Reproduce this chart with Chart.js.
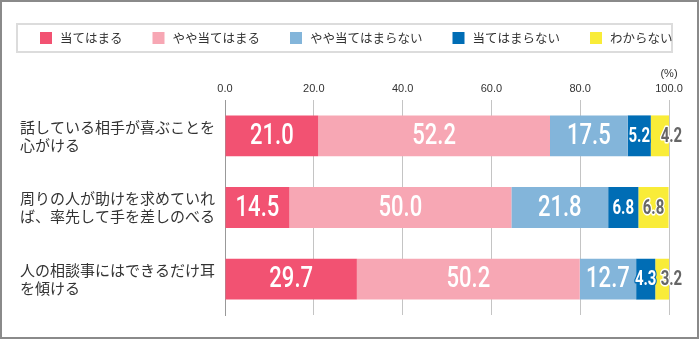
<!DOCTYPE html>
<html>
<head>
<meta charset="utf-8">
<script src="https://cdn.jsdelivr.net/npm/chart.js@4/dist/chart.umd.min.js"></script>
<style>
html, body { margin: 0; padding: 0; background: #fff; }
#grafico { width: 700px; height: 340px; }
</style>
</head>
<body>
<div id="grafico"><canvas id="myChart" width="700" height="340"></canvas></div>
<script>
const categorias = [
    ["話している相手が喜ぶことを", "心がける"],
    ["周りの人が助けを求めていれ", "ば、率先して手を差しのべる"],
    ["人の相談事にはできるだけ耳", "を傾ける"]
]
const series = ["当てはまる", "やや当てはまる", "やや当てはまらない", "当てはまらない", "わからない"]
const atehamaru = [21.0, 14.5, 29.7]
const yayaAtehamaru = [52.2, 50.0, 50.2]
const yayaAtehamaranai = [17.5, 21.8, 12.7]
const atehamaranai = [5.2, 6.8, 4.3]
const wakaranai = [4.2, 6.8, 3.2]
const tickLabels = ["0.0", "20.0", "40.0", "60.0", "80.0", "100.0"]
const colores = ["#F25272", "#F7A7B4", "#83B5DA", "#006DB5", "#F9EC38"]

const numFont = 'Roboto, sans-serif'
const jpFont = '"Noto Sans CJK JP", sans-serif'

// marco exterior, leyenda con borde y "(%)"
const marco = {
    id: "marco",
    afterDraw(chart) {
        const ctx = chart.ctx
        ctx.save()
        ctx.strokeStyle = "#8a8a8a"
        ctx.lineWidth = 2
        ctx.strokeRect(1, 1, 697, 337)

        ctx.strokeStyle = "#dcdcdc"
        ctx.lineWidth = 2
        ctx.strokeRect(17, 24, 655, 28)
        ctx.font = "12.5px " + jpFont
        ctx.textBaseline = "middle"
        let x = 40
        chart.data.datasets.forEach((ds) => {
            ctx.fillStyle = ds.backgroundColor
            ctx.fillRect(x, 32, 12, 12)
            ctx.fillStyle = "#333"
            ctx.fillText(ds.label, x + 20, 38)
            x += 20 + ctx.measureText(ds.label).width + 30
        })

        ctx.font = "11px " + '"Liberation Sans", sans-serif'
        ctx.textAlign = "center"
        ctx.fillStyle = "#333"
        ctx.fillText("(%)", chart.scales.x.getPixelForValue(100), 74)
        ctx.restore()
    }
}

// texto angosto: la fuente condensada no existe, se comprime en x
function textoAngosto(ctx, texto, x, y, escala, borde) {
    ctx.save()
    ctx.translate(x, y)
    ctx.scale(escala, 1)
    if (borde) ctx.strokeText(texto, 0, 0)
    ctx.fillText(texto, 0, 0)
    ctx.restore()
}

// valores sobre cada barra
const etiquetas = {
    id: "etiquetas",
    afterDatasetsDraw(chart) {
        const ctx = chart.ctx
        const ultimo = chart.data.datasets.length - 1
        ctx.save()
        ctx.textAlign = "center"
        ctx.textBaseline = "middle"
        ctx.lineJoin = "round"
        chart.data.datasets.forEach((ds, i) => {
            const meta = chart.getDatasetMeta(i)
            meta.data.forEach((bar, j) => {
                const v = ds.data[j]
                const p = bar.getProps(["x", "y", "base"], true)
                let cx = (p.x + p.base) / 2
                const texto = v.toFixed(1)
                if (v >= 10) {
                    ctx.font = "500 29px " + numFont
                    ctx.fillStyle = "#fff"
                    textoAngosto(ctx, texto, cx, p.y + 1, 0.76, false)
                } else {
                    ctx.font = "bold 20px " + numFont
                    const ancho = Math.abs(p.x - p.base)
                    if (i === ultimo && ancho < ctx.measureText(texto).width * 0.75) cx = p.x + 2
                    ctx.lineWidth = 3
                    ctx.strokeStyle = i === ultimo ? "#fff" : ds.backgroundColor
                    ctx.fillStyle = i === ultimo ? "#666" : "#fff"
                    textoAngosto(ctx, texto, cx, p.y + 1, 0.75, true)
                }
            })
        })
        ctx.restore()
    }
}

const valores = [atehamaru, yayaAtehamaru, yayaAtehamaranai, atehamaranai, wakaranai]
const datasets = series.map((nombre, i) => {
    return {
        label: nombre,
        data: valores[i],
        backgroundColor: colores[i],
        borderWidth: 0,
        barPercentage: 1,
        categoryPercentage: 0.57
    }
})

const config = {
    type: "bar",
    data: { labels: categorias, datasets },
    options: {
        responsive: false,
        animation: false,
        indexAxis: "y",
        layout: { padding: { left: 20, right: 31, top: 0, bottom: 25 } },
        plugins: {
            legend: { display: false },
            tooltip: { enabled: false }
        },
        scales: {
            x: {
                position: "top",
                stacked: true,
                min: 0,
                max: 100,
                ticks: {
                    stepSize: 20,
                    padding: 4,
                    color: "#333",
                    font: { family: '"Liberation Sans", sans-serif', size: 11 },
                    callback: (v, i) => tickLabels[i]
                },
                grid: { color: "#c4c4c4", drawTicks: false },
                border: { display: false },
                afterFit: (s) => { s.height = 100 }
            },
            y: {
                stacked: true,
                ticks: {
                    crossAlign: "far",
                    padding: 0,
                    color: "#333",
                    font: { family: jpFont, size: 15, lineHeight: 1.2 }
                },
                grid: { display: false },
                border: { color: "#999" },
                afterFit: (s) => { s.width = 205 }
            }
        }
    },
    plugins: [etiquetas, marco]
}

const myChart = document.querySelector("#myChart")
new Chart(myChart, config)
</script>
</body>
</html>
